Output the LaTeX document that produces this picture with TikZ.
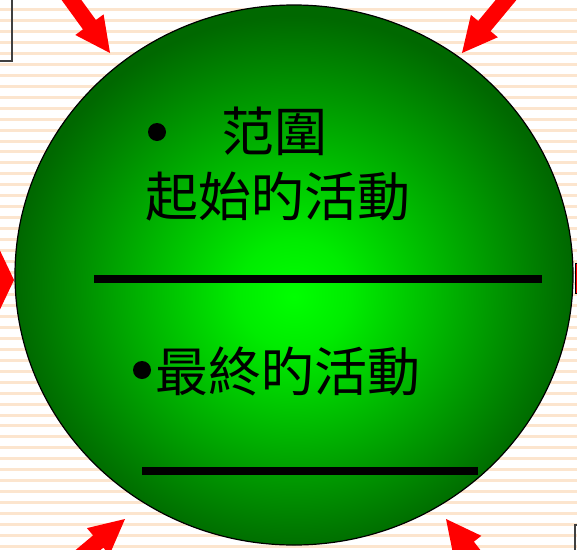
\documentclass[tikz,border=0pt]{standalone}
\usepackage{fontspec}
\newfontfamily\cjk{Noto Sans CJK TC}
\usepackage{xcolor}
\usetikzlibrary{shapes.geometric, arrows.meta, positioning, calc}

\definecolor{stripe}{RGB}{252,229,206}
\definecolor{ballin}{RGB}{0,255,0}
\definecolor{ballmid}{RGB}{0,236,0}
\definecolor{ballout}{RGB}{0,104,0}
\pgfdeclareradialshading{ballshade}{\pgfpoint{0bp}{-2bp}}{%
  color(0bp)=(ballin); color(5bp)=(ballmid); color(25bp)=(ballout); color(50bp)=(ballout)}

\begin{document}
\begin{tikzpicture}[
  x=1pt, y=-1pt,
  ball/.style={
    ellipse, inner sep=0pt,
    minimum width=558pt, minimum height=540pt,
    draw=black, line width=1.2pt,
    shading=ballshade
  },
  txt/.style={
    font=\cjk\fontsize{53}{60}\selectfont,
    inner sep=0pt, anchor=base west
  },
  dot/.style={circle, fill=black, inner sep=0pt, minimum size=18pt},
  bar/.style={line width=8pt, draw=black},
  redarr/.style={fill=red},
  edgebox/.style={draw=black!75, line width=1.5pt}
]
\clip (0,0) rectangle (577,549);

%% Striped background
\foreach \k in {0,...,49}
  \fill[stripe] (0,{8+10.96*\k}) rectangle (577,{11+10.96*\k});

%% Box corners peeking in at the edges
\draw[edgebox] (-5,61) -- (12,61) -- (12,-5);
\draw[edgebox, line width=2pt] (574.5,560) -- (574.5,525) -- (590,525);

%% The ball
\node[ball] (ball) at (294,275) {};

%% Red block arrows pointing at the ball
\coordinate (tl to) at (110,53);
\coordinate (tr to) at (462,53);
\coordinate (bl to) at (125,519);
\coordinate (br to) at (446,519);
\coordinate (l to)  at (14,280);
\foreach \tip/\ang in {tl to/-54, tr to/-129.7, bl to/40, br to/128}
  \fill[redarr, shift={(\tip)}, rotate=\ang]
    (0,0) -- (-35,17.5) -- (-35,8) -- (-200,8) -- (-200,-8) -- (-35,-8) -- (-35,-17.5) -- cycle;
\fill[redarr, shift={(l to)}]
  (0,0) -- (-15,31.5) -- (-15,16) -- (-100,16) -- (-100,-16) -- (-15,-16) -- (-15,-31.5) -- cycle;
\draw[fill=red, draw=black, line width=1pt] (575,263) rectangle (595,293);

%% Texts
\node[dot] (dot1) at (157,132) {};
\node[txt] (scope) at (221,151) {范圍};
\node[txt] (start) at (145,216.5) {起始旳活動};
\node[dot] (dot2) at (142,370) {};
\node[txt] (final) at (155,391) {最終旳活動};

%% Blank lines
\coordinate (b1 a) at (94,279);  \coordinate (b1 b) at (542,279);
\coordinate (b2 a) at (142,471); \coordinate (b2 b) at (478,471);
\draw[bar] (b1 a) -- (b1 b);
\draw[bar] (b2 a) -- (b2 b);

\end{tikzpicture}
\end{document}
